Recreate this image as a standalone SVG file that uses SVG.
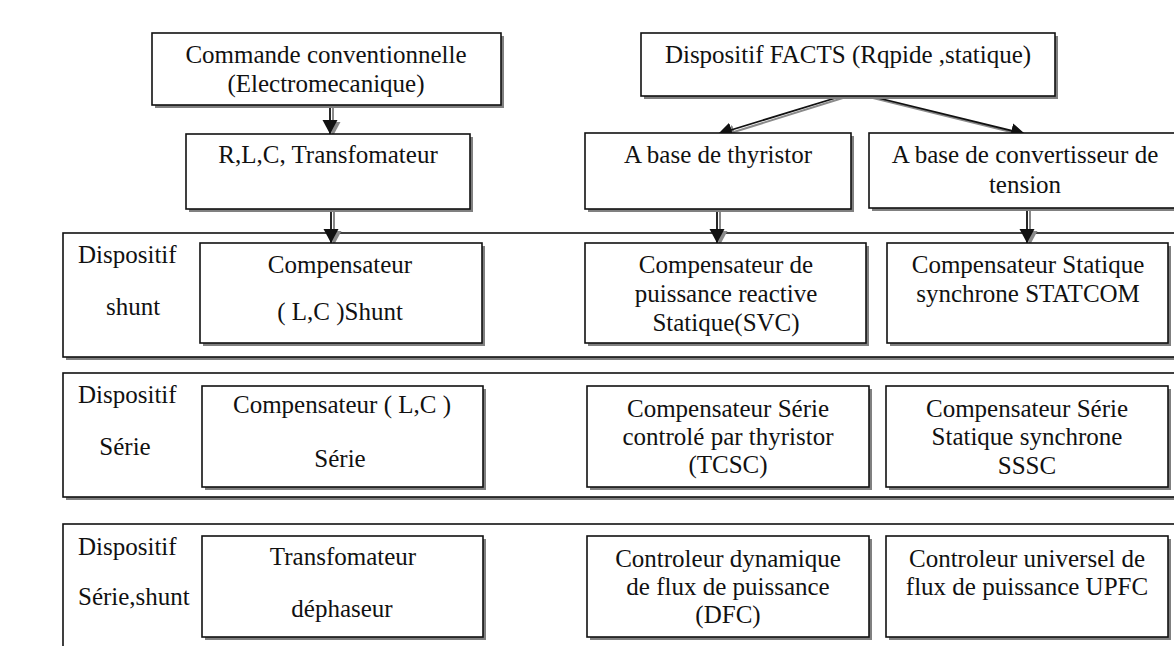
<svg xmlns="http://www.w3.org/2000/svg" width="1174" height="646" viewBox="0 0 1174 646">
<style>
.box{fill:#fff;stroke:#111;stroke-width:1.6}
.sh{fill:#808080;stroke:none}
.t{font-family:"Liberation Serif","Times New Roman",serif;font-size:25px;fill:#111;text-anchor:middle}
.l{font-family:"Liberation Serif","Times New Roman",serif;font-size:25px;fill:#111;text-anchor:start}
.cb{stroke:#111;stroke-width:1.8;fill:none}
.cg{stroke:#8a8a8a;stroke-width:2;fill:none}
</style>
<defs>
<marker id="ah" markerUnits="userSpaceOnUse" markerWidth="16" markerHeight="16" refX="14" refY="7.5" orient="auto">
<path d="M0,0 L14,7.5 L0,15 z" fill="#111"/>
</marker>
<marker id="ahg" markerUnits="userSpaceOnUse" markerWidth="16" markerHeight="16" refX="14" refY="7.5" orient="auto">
<path d="M0,0 L14,7.5 L0,15 z" fill="#8a8a8a"/>
</marker>
</defs>
<rect width="1174" height="646" fill="#fff"/>

<g id="row-shunt">
<rect class="sh" x="66" y="236" width="1120" height="124"/>
<rect class="box" x="63" y="233" width="1120" height="124"/>
<text class="l" x="78" y="263">Dispositif</text>
<text class="t" x="133" y="315">shunt</text>
</g>
<g id="row-serie">
<rect class="sh" x="66" y="376" width="1120" height="124"/>
<rect class="box" x="63" y="373" width="1120" height="124"/>
<text class="l" x="78" y="403">Dispositif</text>
<text class="t" x="125" y="455">Série</text>
</g>
<g id="row-serie-shunt">
<rect class="sh" x="66" y="527" width="1120" height="140"/>
<rect class="box" x="63" y="524" width="1120" height="140"/>
<text class="l" x="78" y="555">Dispositif</text>
<text class="l" x="78" y="605">Série,shunt</text>
</g>

<g id="connectors">
<line class="cg" x1="333" y1="106" x2="333" y2="136" marker-end="url(#ahg)"/>
<line class="cb" x1="330" y1="105" x2="330" y2="134" marker-end="url(#ah)"/>
<line class="cg" x1="334" y1="210" x2="334" y2="245" marker-end="url(#ahg)"/>
<line class="cb" x1="331" y1="209" x2="331" y2="243" marker-end="url(#ah)"/>
<line class="cg" x1="846" y1="97" x2="721" y2="136" marker-end="url(#ahg)"/>
<line class="cb" x1="842" y1="96" x2="718" y2="134" marker-end="url(#ah)"/>
<line class="cg" x1="873" y1="98" x2="1027" y2="136" marker-end="url(#ahg)"/>
<line class="cb" x1="870" y1="96" x2="1025" y2="134" marker-end="url(#ah)"/>
<line class="cg" x1="720" y1="210" x2="720" y2="245" marker-end="url(#ahg)"/>
<line class="cb" x1="717" y1="209" x2="717" y2="243" marker-end="url(#ah)"/>
<line class="cg" x1="1030" y1="209" x2="1030" y2="245" marker-end="url(#ahg)"/>
<line class="cb" x1="1027" y1="208" x2="1027" y2="243" marker-end="url(#ah)"/>
</g>

<g id="commande">
<rect class="sh" x="155" y="36" width="349" height="72"/>
<rect class="box" x="152" y="33" width="349" height="72"/>
<text class="t" x="326" y="63">Commande conventionnelle</text>
<text class="t" x="326" y="92">(Electromecanique)</text>
</g>
<g id="rlc">
<rect class="sh" x="189" y="137" width="284" height="75"/>
<rect class="box" x="186" y="134" width="284" height="75"/>
<text class="t" x="328" y="163">R,L,C, Transfomateur</text>
</g>
<g id="facts">
<rect class="sh" x="644" y="36" width="414" height="63"/>
<rect class="box" x="641" y="33" width="414" height="63"/>
<text class="t" x="848" y="63">Dispositif FACTS (Rqpide ,statique)</text>
</g>
<g id="thyristor">
<rect class="sh" x="588" y="136" width="266" height="76"/>
<rect class="box" x="585" y="133" width="266" height="76"/>
<text class="t" x="718" y="163">A base de thyristor</text>
</g>
<g id="convertisseur">
<rect class="sh" x="872" y="136" width="320" height="75"/>
<rect class="box" x="869" y="133" width="320" height="75"/>
<text class="t" x="1025" y="163">A base de convertisseur de</text>
<text class="t" x="1025" y="193">tension</text>
</g>

<g id="comp-shunt">
<rect class="sh" x="203" y="246" width="282" height="100"/>
<rect class="box" x="200" y="243" width="282" height="100"/>
<text class="t" x="340" y="273">Compensateur</text>
<text class="t" x="340" y="320">( L,C )Shunt</text>
</g>
<g id="svc">
<rect class="sh" x="588" y="246" width="281" height="100"/>
<rect class="box" x="585" y="243" width="281" height="100"/>
<text class="t" x="726" y="273">Compensateur de</text>
<text class="t" x="726" y="302">puissance reactive</text>
<text class="t" x="726" y="331">Statique(SVC)</text>
</g>
<g id="statcom">
<rect class="sh" x="890" y="246" width="281" height="100"/>
<rect class="box" x="887" y="243" width="281" height="100"/>
<text class="t" x="1028" y="273">Compensateur Statique</text>
<text class="t" x="1028" y="302">synchrone STATCOM</text>
</g>

<g id="comp-serie">
<rect class="sh" x="205" y="389" width="281" height="101"/>
<rect class="box" x="202" y="386" width="281" height="101"/>
<text class="t" x="342" y="413">Compensateur ( L,C )</text>
<text class="t" x="340" y="467">Série</text>
</g>
<g id="tcsc">
<rect class="sh" x="590" y="389" width="282" height="101"/>
<rect class="box" x="587" y="386" width="282" height="101"/>
<text class="t" x="728" y="417">Compensateur Série</text>
<text class="t" x="728" y="445">controlé par thyristor</text>
<text class="t" x="728" y="473">(TCSC)</text>
</g>
<g id="sssc">
<rect class="sh" x="889" y="389" width="282" height="101"/>
<rect class="box" x="886" y="386" width="282" height="101"/>
<text class="t" x="1027" y="417">Compensateur Série</text>
<text class="t" x="1027" y="445">Statique synchrone</text>
<text class="t" x="1027" y="474">SSSC</text>
</g>

<g id="transfo">
<rect class="sh" x="205" y="539" width="281" height="101"/>
<rect class="box" x="202" y="536" width="281" height="101"/>
<text class="t" x="343" y="565">Transfomateur</text>
<text class="t" x="342" y="617">déphaseur</text>
</g>
<g id="dfc">
<rect class="sh" x="590" y="539" width="282" height="101"/>
<rect class="box" x="587" y="536" width="282" height="101"/>
<text class="t" x="728" y="567">Controleur dynamique</text>
<text class="t" x="728" y="595">de flux de puissance</text>
<text class="t" x="728" y="623">(DFC)</text>
</g>
<g id="upfc">
<rect class="sh" x="889" y="539" width="282" height="101"/>
<rect class="box" x="886" y="536" width="282" height="101"/>
<text class="t" x="1027" y="567">Controleur universel de</text>
<text class="t" x="1027" y="595">flux de puissance UPFC</text>
</g>
</svg>
